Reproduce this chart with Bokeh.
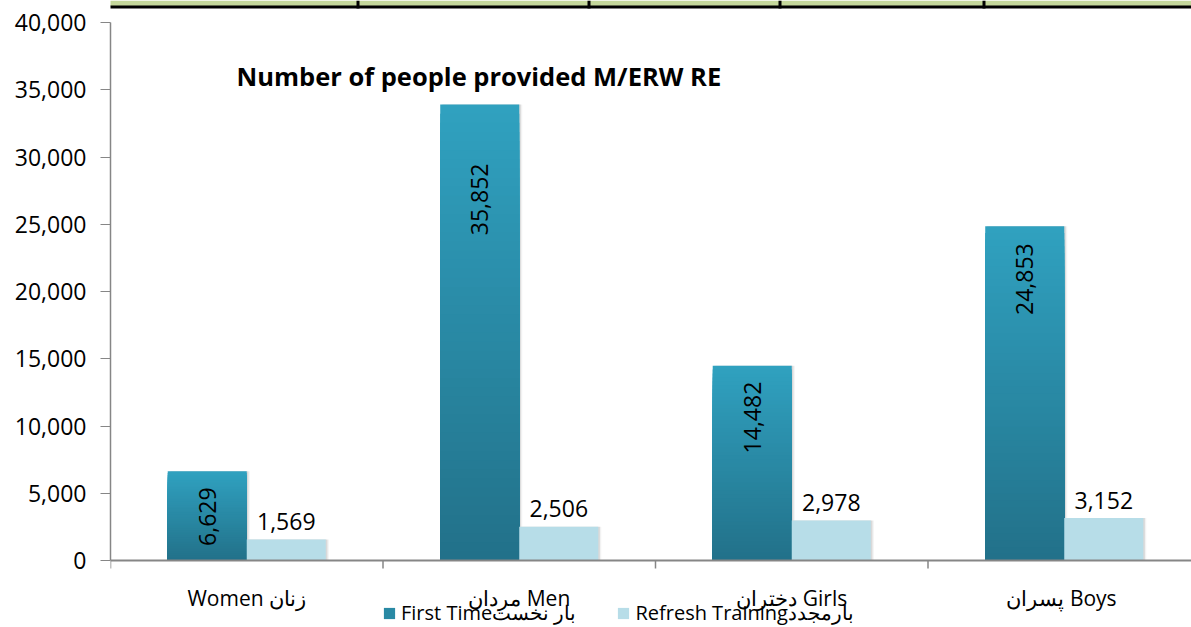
import numpy as np
from bokeh.plotting import figure
from bokeh.models import (Range1d, FixedTicker, NumeralTickFormatter, Label,
                          Legend, LegendItem, Span, BoxAnnotation)
from bokeh.core.properties import value
from bokeh.embed import file_html
from bokeh.resources import INLINE

# ---------------- data ----------------
categories = ["Women زنان", "مردان Men", "دختران Girls", "پسران  Boys"]
first_time = [6629, 33900, 14482, 24853]          # bar heights as drawn
first_time_labels = ["6,629", "35,852", "14,482", "24,853"]
refresh = [1569, 2506, 2978, 3152]
refresh_labels = ["1,569", "2,506", "2,978", "3,152"]
y_ticks = [0, 5000, 10000, 15000, 20000, 25000, 30000, 35000, 40000]
series_names = ["First Timeبار نخست", "Refresh Trainingبارمجدد"]
title_text = "Number of people provided M/ERW RE"

# ---------------- styles / layout ----------------
FONT = "Open Sans"
W, H = 1191, 627
FRAME_LEFT = 110
Y_TOP_PX, Y_ZERO_PX = 22, 560          # pixel rows of 40,000 and 0
CAT_PX = 272.5
label_pad = [16, 59, 16, 17]           # inside-end padding of rotated labels (px)
BAR_W = 0.29
TOP_C = np.array([0x30, 0xA1, 0xC0])
BOT_C = np.array([0x22, 0x71, 0x89])
REFRESH_C = "#B7DDE8"
AX_C = "#868686"

y_max = max(y_ticks)
units_per_px = y_max / (Y_ZERO_PX - Y_TOP_PX)
y_lo = -(H - Y_ZERO_PX) * units_per_px
y_hi = y_max + Y_TOP_PX * units_per_px
x_hi = (W - FRAME_LEFT) / CAT_PX

n = len(categories)
centers = np.arange(n) + 0.5
x_first = centers - BAR_W / 2
x_ref = centers + BAR_W / 2

p = figure(width=W, height=H, x_range=Range1d(0, x_hi),
           y_range=Range1d(y_lo, y_hi), output_backend="svg",
           toolbar_location=None, min_border_left=FRAME_LEFT, min_border_right=0,
           min_border_top=0, min_border_bottom=0)
p.outline_line_color = None
p.xgrid.visible = False
p.ygrid.visible = False
p.xaxis.visible = False

# top strip (part of a table above the chart)
p.add_layout(BoxAnnotation(left=22 - FRAME_LEFT, right=W - FRAME_LEFT, top=H, bottom=H - 6,
                           left_units="screen", right_units="screen",
                           top_units="screen", bottom_units="screen",
                           fill_color="#C4D79B", fill_alpha=1, line_color=None))
p.add_layout(BoxAnnotation(left=22 - FRAME_LEFT, right=W - FRAME_LEFT, top=H - 5, bottom=H - 8,
                           left_units="screen", right_units="screen",
                           top_units="screen", bottom_units="screen",
                           fill_color="#000000", fill_alpha=1, line_color=None))
for dx in [22, 357, 588, 779, 983]:
    p.add_layout(BoxAnnotation(left=dx - FRAME_LEFT - 1, right=dx - FRAME_LEFT + 2, top=H, bottom=H - 8,
                               left_units="screen", right_units="screen",
                               top_units="screen", bottom_units="screen",
                               fill_color="#000000", fill_alpha=1, line_color=None))

# soft shadows
for dx, a in [(0.006, 0.10), (0.011, 0.05)]:
    p.vbar(x=x_first + dx, top=first_time, bottom=0, width=BAR_W,
           fill_color="#000000", fill_alpha=a, line_color=None)
    p.vbar(x=x_ref + dx, top=refresh, bottom=0, width=BAR_W,
           fill_color="#000000", fill_alpha=a, line_color=None)

# gradient first-time bars: nested bars, each shorter one darker
N = 50
for i in range(N, 0, -1):
    t = (i - 0.5) / N
    c = BOT_C + (TOP_C - BOT_C) * t
    col = "#%02x%02x%02x" % tuple(int(round(v)) for v in c)
    tops = [v * i / N for v in first_time]
    p.vbar(x=x_first, top=tops, bottom=0, width=BAR_W,
           fill_color=col, line_color=None)

r_ref = p.vbar(x=x_ref, top=refresh, bottom=0, width=BAR_W,
               fill_color=REFRESH_C, line_color=None)

# x axis line at zero, boundary ticks, category labels
p.add_layout(Span(location=0, dimension="width", line_color=AX_C, line_width=2))
tick_len = 8 * units_per_px
bounds = list(range(n))
p.segment(x0=bounds, y0=[0] * n, x1=bounds, y1=[-tick_len] * n,
          line_color=AX_C, line_width=1.5)
p.text(x=centers, y=[0] * n, text=categories, text_align="center",
       text_baseline="middle", y_offset=37, text_font=value(FONT),
       text_font_size="21px", text_color="#000000")

# data labels
p.text(x=x_first, y=first_time, text=first_time_labels, angle=np.pi / 2,
       text_align="right", text_baseline="middle", y_offset=label_pad,
       text_font=value(FONT), text_font_size="23px", text_color="#000000")
p.text(x=x_ref, y=refresh, text=refresh_labels, text_align="center",
       text_baseline="alphabetic", y_offset=-18,
       text_font=value(FONT), text_font_size="23px", text_color="#000000")

# title inside plot
p.add_layout(Label(x=236 - FRAME_LEFT, y=H - 75, x_units="screen", y_units="screen",
                   text=title_text, text_font=FONT, text_font_style="bold",
                   text_font_size="25.5px", text_baseline="middle",
                   text_color="#000000"))

# y axis
p.yaxis.bounds = (0, y_max)
p.yaxis.ticker = FixedTicker(ticks=y_ticks)
p.yaxis.formatter = NumeralTickFormatter(format="0,0")
p.yaxis.axis_line_color = AX_C
p.yaxis.axis_line_width = 1.5
p.yaxis.major_tick_line_color = AX_C
p.yaxis.major_tick_out = 10
p.yaxis.major_tick_in = 0
p.yaxis.minor_tick_line_color = None
p.yaxis.major_label_standoff = 14
p.yaxis.major_label_text_font = FONT
p.yaxis.major_label_text_font_size = "23px"
p.yaxis.major_label_text_color = "#000000"

# legend (proxy renderer for gradient series)
mid = (TOP_C + BOT_C) / 2
mid_col = "#%02x%02x%02x" % tuple(int(v) for v in mid)
r_ft_leg = p.vbar(x=[x_first[0]], top=[0], bottom=[0], width=BAR_W,
                  fill_color=mid_col, line_color=None)
legend = Legend(items=[LegendItem(label=series_names[0], renderers=[r_ft_leg]),
                       LegendItem(label=series_names[1], renderers=[r_ref])],
                orientation="horizontal", location=(382 - FRAME_LEFT, 1),
                label_text_font=FONT, label_text_font_size="20px",
                label_text_color="#000000", glyph_width=14, glyph_height=14,
                label_standoff=5, spacing=40, padding=0, margin=0,
                border_line_color=None, background_fill_alpha=0)
p.add_layout(legend, "center")

open("out.html", "w").write(file_html(p, INLINE))
